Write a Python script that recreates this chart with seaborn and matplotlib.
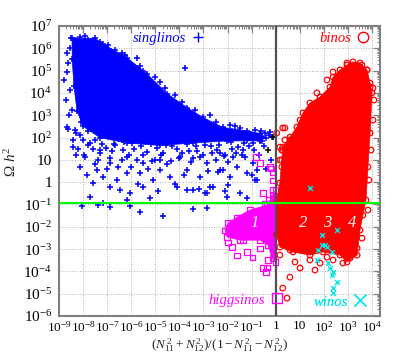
import numpy as np
import pandas as pd
import matplotlib
matplotlib.use("Agg")
import matplotlib.pyplot as plt
from matplotlib.lines import Line2D
from matplotlib.ticker import LogLocator, NullFormatter
import seaborn as sns

# ---------------- data (log10 values) ----------------
# dense singlino core outline
blue_core_lx = [-8.46, -7.50, -7.17, -6.18, -5.35, -4.51, -3.68, -3.02, -2.19, -1.19, -0.65, -0.40,
                -0.65, -2.02, -3.44, -4.81, -6.18, -7.30, -8.00, -8.25, -8.38, -8.45]
blue_core_ly = [6.45, 6.45, 6.20, 5.58, 4.86, 3.97, 3.34, 2.90, 2.45, 2.30, 2.18, 2.00,
                1.85, 1.85, 1.75, 1.65, 1.75, 2.00, 2.50, 3.20, 4.30, 5.50]
# singlino points around the core
blue_a_lx = [-8.13, -7.92, -8.42, -8.34, -8.67, -8.46, -8.54, -8.67, -8.63, -7.42, -7.17, -6.88, -6.47,
             -6.18, -6.05, -5.51, -5.64, -5.10, -4.81, -4.39, -4.10, -3.68, -3.44, -3.14, -2.85, -2.60,
             -2.19, -1.90, -1.48, -1.19, -0.94, -0.78, -1.77, -1.36, -0.94, -0.65, -1.19, -2.44, -3.14,
             -3.98, -4.81, -5.51, -6.18, -6.88, -7.59, -7.71, -7.17, -6.18, -5.22, -3.68, -2.85, -2.02,
             -1.19, -5.76, -3.77, -0.24, -1.28, -0.78, -2.31, -1.57, -2.11, -2.40, -2.73, -2.94, -1.98,
             -0.86, -0.86]
blue_a_ly = [0.68, 1.13, 1.57, 2.34, 2.47, 3.23, 4.13, 5.79, 5.34, 0.54, 0.23, -0.22, -0.35,
             0.41, -0.49, -0.22, 0.41, 0.09, 0.54, 0.23, -0.22, 0.54, -0.35, 0.23, 0.86, -0.22,
             0.54, 0.23, -0.49, 0.41, 0.86, 0.09, 1.13, 1.44, 1.75, 1.89, 1.89, 1.44, 1.13,
             1.13, 0.99, 0.86, 1.13, 0.86, -0.04, -0.67, -0.94, -0.80, -0.71, -0.35, -0.49, -0.67,
             -0.71, 5.57, 5.12, 2.25, 1.13, 0.54, 0.54, 1.57, 1.22, 0.45, -0.22, -0.49, -0.13,
             0.09, -1.88]
blue_b_lx = [-8.04, -7.38, -6.88, -6.05, -5.64, -4.68, -3.44, -2.85]
blue_b_ly = [-1.07, -1.03, -1.12, -1.07, -1.34, -1.52, -1.21, -1.16]
blue_c_lx = [-8.42, -8.13, -7.80, -7.50, -7.30, -6.67, -8.71, -8.79, -8.67, -8.63]
blue_c_ly = [1.89, 2.11, 1.66, 1.89, 1.44, 1.66, 3.68, 4.58, 4.94, 2.38]
blue_d_lx = [-8.13, -7.80, -6.97, -6.67, -6.26, -5.64, -5.01, -4.81, -4.18, -3.35, -2.73, -1.90,
             -1.48, -0.86, -0.45, -0.15]
blue_d_ly = [6.51, 6.37, 6.15, 5.92, 5.70, 5.21, 4.71, 4.49, 3.91, 3.23, 3.01, 2.56,
             2.43, 2.34, 2.20, 2.02]
blue_e_lx = [-8.30, -8.00, -7.85, -7.60, -7.40, -7.20, -7.00, -6.80, -6.60, -6.40, -6.30, -6.00,
             -5.90, -5.70, -5.50, -5.30, -5.20, -5.00, -4.90, -4.70, -4.50, -4.30, -4.20, -4.00,
             -3.80, -3.60, -3.50, -3.30, -3.20, -3.00, -2.80, -2.70, -2.50, -2.30, -2.10, -2.00,
             -1.80, -1.60, -1.40, -1.10, -1.00, -0.70, -0.50, -0.40, -0.20, -0.30, -0.60, -1.00]
blue_e_ly = [1.20, 1.90, 0.30, 1.50, 1.00, 1.70, 0.60, 1.40, 0.10, 1.00, 1.80, 0.70,
             1.50, -0.10, 1.20, 0.60, 1.70, 1.00, -0.40, 1.30, 0.80, 1.60, -0.10, 1.10,
             0.30, 1.40, 0.90, 1.60, -0.30, 1.20, 0.50, 1.60, 1.00, 1.30, -0.40, 0.90,
             1.50, 0.70, 1.20, 1.60, 0.30, 1.20, 1.60, 0.60, 1.00, 2.10, 2.30, 2.10]
blue_f_lx = [-2.50, -1.70, -3.90, -4.60, -5.50, -6.40, -7.30, -7.90, -8.50, -8.30, -8.55, -8.60]
blue_f_ly = [2.70, 2.50, 3.60, 4.20, 5.00, 5.80, 6.30, 6.55, 6.45, 6.35, 6.00, 3.00]
blue_g_lx = [-8.20, -7.95, -7.70, -7.50, -7.30, -7.05, -6.90, -6.70, -6.55, -6.35, -6.10, -5.95,
             -5.75, -5.60, -5.35, -5.15, -4.95, -4.75, -4.55, -4.35, -4.10, -3.90, -3.70, -3.45,
             -3.25, -2.95, -2.65, -2.35, -2.15, -1.85, -1.65, -1.30, -0.90, -0.55, -7.80, -7.60,
             -8.10, -8.30]
blue_g_ly = [1.50, 1.20, 1.75, 0.80, 1.30, 1.55, 1.10, 1.70, 0.70, 1.45, 1.20, 1.75,
             1.00, 1.60, 1.35, 0.95, 1.55, 1.20, 1.65, 0.95, 1.50, 1.30, 1.70, 1.10,
             1.40, 1.65, 1.30, 1.65, 1.15, 1.80, 1.30, 1.75, 1.45, 1.85, 2.30, 2.60,
             2.70, 2.20]
black_lx = [-0.32, -0.11]
black_ly = [1.44, 2.02]

# dense bino region outline
red_core_lx = [0.04, 0.08, 0.17, 0.25, 0.29, 0.59, 0.88, 1.13, 1.42, 1.84, 2.25, 2.38, 2.67, 2.96,
               3.21, 3.50, 3.79, 3.92, 4.00, 3.92, 3.83, 3.75, 3.62, 3.50, 3.38, 2.96, 2.67, 1.96,
               1.42, 0.72, 0.17, 0.04]
red_core_ly = [-0.89, -0.67, -0.04, 0.99, 1.57, 2.02, 2.47, 3.10, 3.55, 3.82, 4.26, 4.71, 5.03, 5.25,
               5.39, 5.34, 5.03, 4.44, 4.00, 2.20, 0.68, -0.80, -1.48, -2.15, -3.27, -3.58, -3.27, -3.13,
               -3.27, -3.13, -2.91, -2.37]
red_pts_lx = [0.29, 0.47, 0.59, 1.01, 1.63, 0.80, 1.42, 1.84, 2.79, 2.38, 2.13,
              0.04, 0.29, 0.25, 0.25, 0.17, 0.38,
              3.79, 3.92, 4.04, 3.58, 2.96, 2.38, 2.13, 1.71, 1.42, 1.01, 0.59, 0.29, 0.17, 0.38,
              4.08, 4.04, 3.96, 3.87, 3.83, 3.58, 3.38,
              1.22, 1.76, 3.09, 0.59, 0.25, 0.17]
red_pts_ly = [-4.75, -5.20, -4.26, -3.85, -3.94, -3.58, -3.49, -3.63, -3.63, -3.49, -3.36,
              2.20, 2.43, 1.44, 0.68, 1.57, 1.89,
              5.03, 4.26, 4.22, 5.25, 5.34, 4.94, 4.58, 4.00, 3.23, 2.78, 1.89, 1.44, 0.99, 2.43,
              3.68, 2.78, 1.44, 0.09, -1.25, -2.51, -2.96,
              -2.96, -3.04, -3.40, -3.04, -2.60, -3.27]

# dense higgsino region outline
mag_core_lx = [0.0, -0.11, -0.36, -1.07, -1.61, -1.98, -2.11, -2.02, -1.48, -0.65, -0.32, -0.15, 0.0]
mag_core_ly = [-0.35, -0.58, -1.03, -1.25, -1.57, -1.83, -2.15, -2.46, -2.60, -2.60, -2.82, -3.40, -3.58]
mag_pts_lx = [-1.98, -1.36, -1.61, -0.98, -0.65, -0.53, -0.36, -0.32, -0.15, -0.11, -0.82, -0.65,
              -0.24, -0.15, -0.53, -0.15, -0.11, -0.20, -0.07, -0.28, -0.45, -1.82, -1.19, -0.40]
mag_pts_ly = [-2.69, -2.60, -3.27, -3.36, -2.96, -3.85, -3.81, -3.49, -2.91, -2.46, 1.13, 0.86,
              0.68, 0.45, -0.49, -0.35, 0.09, 0.63, -0.71, -0.80, -0.98, -2.91, -3.13, -4.03]

# winos
cyan_lx = [1.42, 1.92, 2.05, 1.76, 2.54, 2.34, 2.17, 2.25, 2.38, 2.34, 2.54, 2.38, 2.38, 1.92, 2.13, 1.71]
cyan_ly = [-0.26, -2.37, -2.82, -3.04, -2.15, -3.13, -3.63, -3.85, -4.03, -4.17, -4.48, -4.75, -4.97,
           -2.82, -2.91, -3.49]

omega_wmap = 0.12
region_labels = ["1", "2", "3", "4"]
region_lx = [-0.86, 1.13, 2.13, 3.17]
region_ly = [-1.83, -1.83, -1.83, -1.83]

xtick_exp = list(range(-9, 5))
ytick_exp = list(range(-6, 8))
xtick_labels = [r"$10^{-9}$", r"$10^{-8}$", r"$10^{-7}$", r"$10^{-6}$", r"$10^{-5}$", r"$10^{-4}$",
                r"$10^{-3}$", r"$10^{-2}$", r"$10^{-1}$", "1", "10", r"$10^{2}$", r"$10^{3}$", r"$10^{4}$"]
ytick_labels = [r"$10^{-6}$", r"$10^{-5}$", r"$10^{-4}$", r"$10^{-3}$", r"$10^{-2}$", r"$10^{-1}$",
                "1", "10", r"$10^{2}$", r"$10^{3}$", r"$10^{4}$", r"$10^{5}$", r"$10^{6}$", r"$10^{7}$"]

# ---------------- style ----------------
sns.set_style("white")
plt.rcParams["font.family"] = ["Liberation Serif", "DejaVu Serif"]
plt.rcParams["mathtext.fontset"] = "custom"
plt.rcParams["mathtext.rm"] = "Liberation Serif"
plt.rcParams["mathtext.it"] = "Liberation Serif:italic"
plt.rcParams["mathtext.bf"] = "Liberation Serif:bold"

BLUE, RED, MAG, CYAN, GREEN = "#0000ff", "#ff0000", "#ff00ff", "#00e8e8", "#00ff00"

def p10(a):
    return 10.0 ** np.asarray(a, dtype=float)

fig, ax = plt.subplots(figsize=(3.99, 3.57), dpi=100)
fig.subplots_adjust(left=59 / 399, right=380 / 399, top=1 - 26 / 357, bottom=1 - 316 / 357)
ax.set_xscale("log")
ax.set_yscale("log")

# singlinos
ax.fill(p10(blue_core_lx), p10(blue_core_ly), color=BLUE, lw=0.5, zorder=2)
blue_lx_all = (blue_a_lx + blue_b_lx + blue_c_lx + blue_d_lx + blue_e_lx + blue_f_lx + blue_g_lx
               + blue_core_lx)
blue_ly_all = (blue_a_ly + blue_b_ly + blue_c_ly + blue_d_ly + blue_e_ly + blue_f_ly + blue_g_ly
               + blue_core_ly)
blue_df = pd.DataFrame({"x": p10(blue_lx_all), "y": p10(blue_ly_all)})
sns.scatterplot(data=blue_df, x="x", y="y", marker="+", color=BLUE, s=22, linewidth=1.1,
                ax=ax, zorder=3, legend=False)
sns.scatterplot(x=p10(black_lx), y=p10(black_ly), marker="+", color="black", s=22, linewidth=1.1,
                ax=ax, zorder=3, legend=False)

# higgsinos
ax.fill(p10(mag_core_lx), p10(mag_core_ly), color=MAG, lw=0.5, zorder=3)
mag_df = pd.DataFrame({"x": p10(mag_pts_lx + mag_core_lx), "y": p10(mag_pts_ly + mag_core_ly)})
sns.scatterplot(data=mag_df, x="x", y="y", marker="s", facecolor="none", edgecolor=MAG, s=14,
                linewidth=0.9, ax=ax, zorder=4, legend=False)

# binos
ax.fill(p10(red_core_lx), p10(red_core_ly), color=RED, lw=0.5, zorder=4)
red_df = pd.DataFrame({"x": p10(red_pts_lx + red_core_lx), "y": p10(red_pts_ly + red_core_ly)})
sns.scatterplot(data=red_df, x="x", y="y", marker="o", facecolor="none", edgecolor=RED, s=16,
                linewidth=0.9, ax=ax, zorder=4, legend=False)

# winos
sns.scatterplot(x=p10(cyan_lx), y=p10(cyan_ly), marker="x", color=CYAN, s=12, linewidth=1.0,
                ax=ax, zorder=5, legend=False)

ax.axvline(1.0, color="#505050", lw=1.6, zorder=6)
ax.axhline(omega_wmap, color=GREEN, lw=1.5, zorder=6)

for lab, lx, ly in zip(region_labels, region_lx, region_ly):
    ax.text(10 ** lx, 10 ** ly, lab, color="white", fontsize=12, style="italic",
            ha="center", va="center", zorder=7)

ax.set_xlim(1e-9, 10 ** 4.33)
ax.set_ylim(1e-6, 1e7)
ax.set_xticks([10.0 ** e for e in xtick_exp])
ax.set_xticklabels(xtick_labels)
ax.set_yticks([10.0 ** e for e in ytick_exp])
ax.set_yticklabels(ytick_labels)
for axis in (ax.xaxis, ax.yaxis):
    axis.set_minor_locator(LogLocator(base=10, subs=np.arange(2, 10), numticks=100))
    axis.set_minor_formatter(NullFormatter())
ax.tick_params(which="both", direction="in", top=True, right=True, color="#808080",
               labelcolor="black")
ax.tick_params(axis="x", labelsize=9.5, pad=3)
ax.tick_params(axis="y", labelsize=11, pad=5)
ax.tick_params(which="major", length=5, width=0.9)
ax.tick_params(which="minor", length=2.5, width=0.7)
ax.grid(True, which="major", ls=":", color="#b0b0b0", lw=0.7)
ax.set_axisbelow(True)
for sp in ax.spines.values():
    sp.set_color("#808080")
    sp.set_linewidth(1.5)
ax.set_xlabel("")
ax.set_ylabel("")

fig.text(219.5 / 399, 1 - 345 / 357, r"$\mathit{(N_{11}^{\,2}+N_{12}^{\,2})/(1-N_{11}^{\,2}-N_{12}^{\,2})}$",
         ha="center", va="center", fontsize=9.5)
fig.text(11 / 399, 1 - 162 / 357, r"$\Omega\ h^{2}$", rotation=90, ha="center", va="center", fontsize=11)

# keys
def key(label, handle, color, x, y):
    leg = ax.legend([handle], [label], loc="center right", bbox_to_anchor=(x, y),
                    bbox_transform=ax.transAxes, frameon=False, markerfirst=False,
                    handlelength=0.9, handletextpad=0.4, borderpad=0, borderaxespad=0,
                    prop={"style": "italic", "size": 10.5}, labelcolor=color)
    leg.set_zorder(8)
    ax.add_artist(leg)

key("singlinos", Line2D([0], [0], marker="+", ls="none", color=BLUE, ms=7, mew=1.0),
    BLUE, (205 - 59) / 321, (316 - 38) / 290)
key("binos", Line2D([0], [0], marker="o", ls="none", mfc="none", mec=RED, ms=7.5, mew=1.0),
    RED, (370 - 59) / 321, (316 - 38) / 290)
key("higgsinos", Line2D([0], [0], marker="s", ls="none", mfc="none", mec=MAG, ms=6.5, mew=1.0),
    MAG, (284 - 59) / 321, (316 - 300) / 290)
key("winos", Line2D([0], [0], marker="x", ls="none", color=CYAN, ms=8, mew=1.0),
    CYAN, (367 - 59) / 321, (316 - 302) / 290)

fig.savefig("out.png", dpi=100)
